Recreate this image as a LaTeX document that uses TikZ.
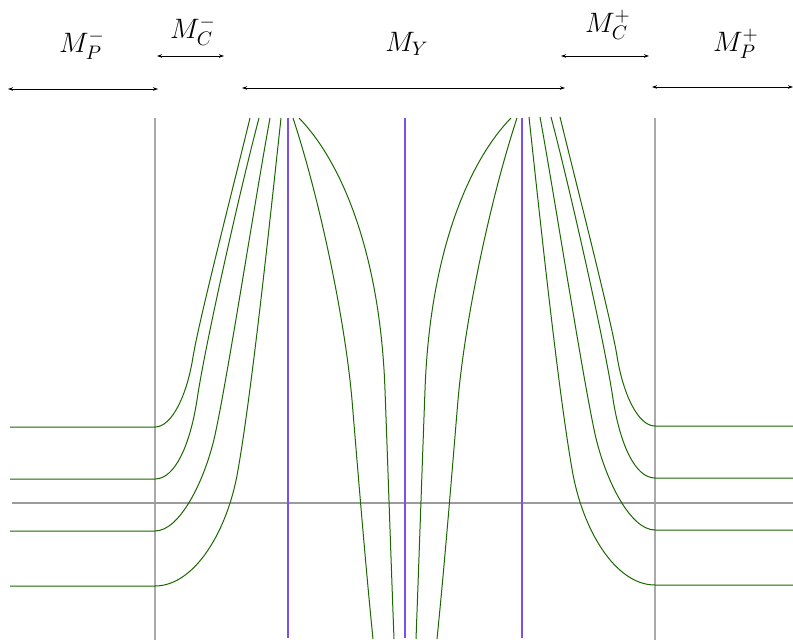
\documentclass[tikz,border=0pt]{standalone}
\usepackage{graphicx}
\usetikzlibrary{arrows.meta}
\definecolor{curvegreen}{RGB}{26,102,0}
\definecolor{rootblue}{RGB}{120,80,240}
\definecolor{bordergray}{RGB}{170,170,170}
\definecolor{axisgray}{RGB}{155,155,155}
\newcommand\biglabel[1]{\scalebox{1.95}{\Large$#1$}}
\newcommand\sidecurves[1]{%
  \draw[flow] (#1,427) -- (155,427) .. controls (172,427) and (187,395) .. (193,357) .. controls (199,320) and (235,180) .. (250,118);
  \draw[flow] (#1,479) -- (155,479) .. controls (175,479) and (190,445) .. (197,400) .. controls (205,345) and (240,190) .. (259,118);
  \draw[flow] (#1,531) -- (155,531) .. controls (180,531) and (205,480) .. (215,435) .. controls (228,375) and (255,200) .. (270,118);
  \draw[flow] (#1,586) -- (155,586) .. controls (195,586) and (228,530) .. (238,470) .. controls (252,390) and (270,220) .. (281,118);
}
\newcommand\centrecurves{%
  \draw[flow] (293,118) .. controls (320,200) and (345,320) .. (352,400) .. controls (357,460) and (365,560) .. (373,639);
  \draw[flow] (299,118) .. controls (340,160) and (380,250) .. (385,390) .. controls (388,470) and (391,560) .. (394,639);
}
\begin{document}
\begin{tikzpicture}[x=1pt,y=-1pt,
  flow/.style={curvegreen, line width=1pt},
  root/.style={rootblue, line width=1.5pt},
  border/.style={bordergray, line width=2pt},
  axis/.style={axisgray, line width=1.5pt},
  span/.style={black, line width=0.8pt, {Stealth[length=5pt,width=3.5pt]}-{Stealth[length=5pt,width=3.5pt]}},
  lbl/.style={inner sep=0pt}]
\useasboundingbox (0,0) rectangle (793,644);
% labels
\node[lbl] (mpm) at (82,45) {\biglabel{M_P^-}};
\node[lbl] (mcm) at (193,31) {\biglabel{M_C^-}};
\node[lbl] (my) at (407,44) {\biglabel{M_Y}};
\node[lbl] (mcp) at (608,25) {\biglabel{M_C^+}};
\node[lbl] (mpp) at (736,44) {\biglabel{M_P^+}};
% span arrows
\coordinate (pmL) at (8,89);   \coordinate (pmR) at (158,89);
\coordinate (yL) at (242,88);  \coordinate (yR) at (565,88);
\coordinate (ppL) at (652,87); \coordinate (ppR) at (793,87);
\coordinate (cmL) at (157,56); \coordinate (cmR) at (224,56);
\coordinate (cpL) at (561,56); \coordinate (cpR) at (649,56);
\draw[span] (pmL) -- (pmR);
\draw[span] (yL) -- (yR);
\draw[span] (ppL) -- (ppR);
\draw[span] (cmL) -- (cmR);
\draw[span] (cpL) -- (cpR);
% gray frame lines
\draw[border] (155,118) -- (155,640);
\draw[border] (655,118) -- (655,640);
\draw[axis] (12,503) -- (793,503);
% blue lines
\draw[root] (288,118) -- (288,638);
\draw[root] (405,118) -- (405,638);
\draw[root] (522,118) -- (522,638);
% green curves
\sidecurves{10}
\centrecurves
\begin{scope}[yshift=1pt, xshift=810pt, xscale=-1]
  \sidecurves{17}
\end{scope}
\begin{scope}[xshift=810pt, xscale=-1]
  \centrecurves
\end{scope}
\end{tikzpicture}
\end{document}
